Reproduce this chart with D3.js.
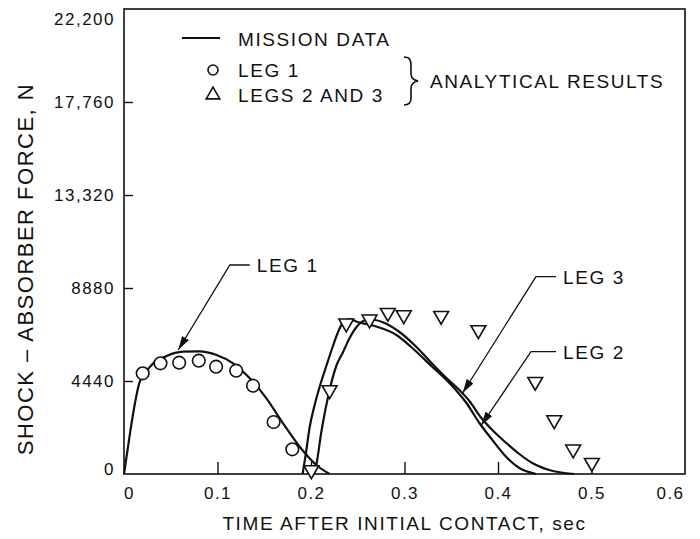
<!DOCTYPE html>
<html lang="en">
<head>
<meta charset="UTF-8">
<title>Shock-absorber force</title>
<script src="https://d3js.org/d3.v7.min.js"></script>
<style>
  body { margin: 0; background: #fff; }
  svg text { font-family: "Liberation Sans", Arial, sans-serif; fill: #111; }
  .tick text { font-size: 17px; letter-spacing: 1.5px; }
  .tick line { stroke: #111; stroke-width: 1.4; }
  .curve { fill: none; stroke: #111; stroke-width: 2.2; }
  .leader { fill: none; stroke: #111; stroke-width: 1.3; }
</style>
</head>
<body>
<script>
// axis ticks
const xTicks = [0, 0.1, 0.2, 0.3, 0.4, 0.5, 0.6];
const yTicks = [0, 4440, 8880, 13320, 17760, 22200];

// mission data, [time sec, force N]
const leg1Mission = [
  [0, 0], [0.0064, 1943], [0.0117, 3375], [0.0163, 4330], [0.0278, 5122],
  [0.0456, 5633], [0.0633, 5839], [0.0811, 5858], [0.099, 5681], [0.1167, 5285],
  [0.1345, 4569], [0.1523, 3614], [0.1701, 2420], [0.1879, 1303], [0.2057, 430],
  [0.2199, 0]
];
const leg2Mission = [
  [0.191, 0], [0.1943, 907], [0.1986, 2244], [0.2039, 3294], [0.2092, 4153],
  [0.2167, 5204], [0.2231, 6063], [0.2285, 6731], [0.2338, 7208], [0.2413, 7400],
  [0.2498, 7256], [0.268, 7066], [0.2914, 6636], [0.3107, 5920], [0.3299, 5108],
  [0.348, 4345], [0.3662, 3390], [0.3801, 2435], [0.394, 1623], [0.4089, 812],
  [0.4228, 286], [0.4409, 0]
];
const leg3Mission = [
  [0.2028, 0], [0.205, 286], [0.2114, 2101], [0.2199, 4010], [0.2274, 5204],
  [0.2338, 5777], [0.2413, 6493], [0.2487, 7018], [0.2594, 7352], [0.268, 7352],
  [0.2786, 7209], [0.2946, 6779], [0.3128, 6063], [0.3299, 5251], [0.3448, 4583],
  [0.3587, 4010], [0.3694, 3485], [0.3822, 2673], [0.395, 2053], [0.4089, 1480],
  [0.4228, 955], [0.4366, 525], [0.4548, 191], [0.4815, 0]
];

// analytical results
const leg1Analytical = [
  [0.020, 4808], [0.039, 5285], [0.059, 5314], [0.080, 5409], [0.0985, 5123],
  [0.120, 4932], [0.138, 4216], [0.160, 2482], [0.180, 1179]
];
const legs23Analytical = [
  [0.2004, 191], [0.2199, 4010], [0.2377, 7195], [0.2626, 7385], [0.2822, 7700],
  [0.2992, 7591], [0.3392, 7557], [0.379, 6875], [0.4398, 4406], [0.4601, 2578],
  [0.4804, 1179], [0.5004, 539]
];

// curve labels: arrow tip, elbow, end of horizontal leader (time, force)
const curveLabels = [
  {text: "LEG 1", tip: [0.058, 5920], elbow: [0.1132, 9978], end: [0.1345, 9978]},
  {text: "LEG 3", tip: [0.3622, 3867], elbow: [0.4406, 9419], end: [0.462, 9419]},
  {text: "LEG 2", tip: [0.3819, 2315], elbow: [0.4353, 5839], end: [0.462, 5839]}
];

const W = 700, H = 539;
const margin = {top: 9, right: 15, bottom: 65, left: 124};
const width = W - margin.left - margin.right;
const height = H - margin.top - margin.bottom;

const svg = d3.select("body").append("svg")
    .attr("width", W)
    .attr("height", H);

svg.append("defs").append("marker")
    .attr("id", "head")
    .attr("viewBox", "0 0 14 8")
    .attr("refX", 14).attr("refY", 4)
    .attr("markerWidth", 14).attr("markerHeight", 8)
    .attr("markerUnits", "userSpaceOnUse")
    .attr("orient", "auto")
  .append("path")
    .attr("d", "M0,0 L14,4 L0,8 Z")
    .attr("fill", "#111");

const g = svg.append("g")
    .attr("transform", `translate(${margin.left},${margin.top})`);

const x = d3.scaleLinear().domain([0, 0.6]).range([0, width]);
const y = d3.scaleLinear().domain([0, 22200]).range([height, 0]);

// axes, ticks pointing inward
const xAxis = g.append("g")
    .attr("transform", `translate(0,${height})`)
    .call(d3.axisBottom(x).tickValues(xTicks).tickSizeInner(-12).tickSizeOuter(0).tickPadding(12.5)
      .tickFormat(d => d === 0 ? "0" : d3.format(".1f")(d)));
xAxis.select(".domain").remove();
xAxis.selectAll(".tick").filter(d => d === 0 || d === 0.6).select("line").remove();
xAxis.selectAll(".tick text").filter(d => d === 0).attr("dx", 5);
xAxis.selectAll(".tick text").filter(d => d === 0.6).attr("dx", -15);

const yAxis = g.append("g")
    .call(d3.axisLeft(y).tickValues(yTicks).tickSizeInner(-9).tickSizeOuter(0).tickPadding(9)
      .tickFormat(d => d < 10000 ? String(d) : d3.format(",")(d)));
yAxis.select(".domain").remove();
yAxis.selectAll(".tick").filter(d => d === 0 || d === 22200).select("line").remove();
yAxis.selectAll(".tick text").filter(d => d === 22200).attr("dy", "0.9em");
yAxis.selectAll(".tick text").filter(d => d === 0).attr("dy", "0");

// frame
g.append("rect")
    .attr("width", width).attr("height", height)
    .attr("fill", "none").attr("stroke", "#111").attr("stroke-width", 1.6);

// axis titles
svg.append("text")
    .attr("x", margin.left + width / 2).attr("y", 530)
    .attr("text-anchor", "middle")
    .style("font-size", "19px").style("letter-spacing", "1.6px")
    .text("TIME AFTER INITIAL CONTACT, sec");

svg.append("text")
    .attr("transform", `translate(33,269) rotate(-90)`)
    .attr("text-anchor", "middle")
    .style("font-size", "22px").style("letter-spacing", "1.5px")
    .text("SHOCK \u2013 ABSORBER FORCE, N");

// mission curves
const line = d3.line()
    .x(d => x(d[0])).y(d => y(d[1]))
    .curve(d3.curveMonotoneX);

[leg1Mission, leg2Mission, leg3Mission].forEach(s => {
  g.append("path").attr("class", "curve").attr("d", line(s));
});

// analytical points
g.selectAll(".circ")
  .data(leg1Analytical)
  .join("circle")
    .attr("class", "circ")
    .attr("cx", d => x(d[0])).attr("cy", d => y(d[1]))
    .attr("r", 6.3)
    .attr("fill", "#fff").attr("stroke", "#111").attr("stroke-width", 1.6);

const triDown = d3.symbol().type(d3.symbolTriangle).size(95);
g.selectAll(".tri")
  .data(legs23Analytical)
  .join("path")
    .attr("class", "tri")
    .attr("d", triDown)
    .attr("transform", d => `translate(${x(d[0])},${y(d[1])}) rotate(180)`)
    .attr("fill", "#fff").attr("stroke", "#111").attr("stroke-width", 1.6);

// curve labels with leaders
curveLabels.forEach(c => {
  const pts = [c.end, c.elbow, c.tip].map(p => [x(p[0]), y(p[1])]);
  g.append("path")
      .attr("class", "leader")
      .attr("d", d3.line()(pts))
      .attr("marker-end", "url(#head)");
  g.append("text")
      .attr("x", x(c.end[0]) + 7).attr("y", y(c.end[1]))
      .attr("dy", "0.36em")
      .style("font-size", "19px").style("letter-spacing", "1.6px")
      .text(c.text);
});

// legend
const lg = svg.append("g");
lg.append("line")
    .attr("x1", 182).attr("x2", 220).attr("y1", 38).attr("y2", 38)
    .attr("stroke", "#111").attr("stroke-width", 2);
lg.append("circle")
    .attr("cx", 213).attr("cy", 70).attr("r", 5)
    .attr("fill", "none").attr("stroke", "#111").attr("stroke-width", 1.6);
lg.append("path")
    .attr("d", d3.symbol().type(d3.symbolTriangle).size(80))
    .attr("transform", "translate(213,95)")
    .attr("fill", "none").attr("stroke", "#111").attr("stroke-width", 1.6);

const legendRows = [["MISSION DATA", 45.5], ["LEG 1", 77], ["LEGS 2 AND 3", 101.5]];
lg.selectAll(".lt")
  .data(legendRows)
  .join("text")
    .attr("class", "lt")
    .attr("x", 238).attr("y", d => d[1])
    .style("font-size", "19px").style("letter-spacing", "1.6px")
    .text(d => d[0]);

lg.append("path")
    .attr("d", "M404,57 C410,57 411,60 411,66 L411,74 C411,78 413,80 418,81 C413,82 411,84 411,88 L411,98 C411,103 409,105 404,105")
    .attr("fill", "none").attr("stroke", "#111").attr("stroke-width", 1.6);
lg.append("text")
    .attr("x", 430).attr("y", 87.5)
    .style("font-size", "19px").style("letter-spacing", "1.6px")
    .text("ANALYTICAL RESULTS");
</script>
</body>
</html>
